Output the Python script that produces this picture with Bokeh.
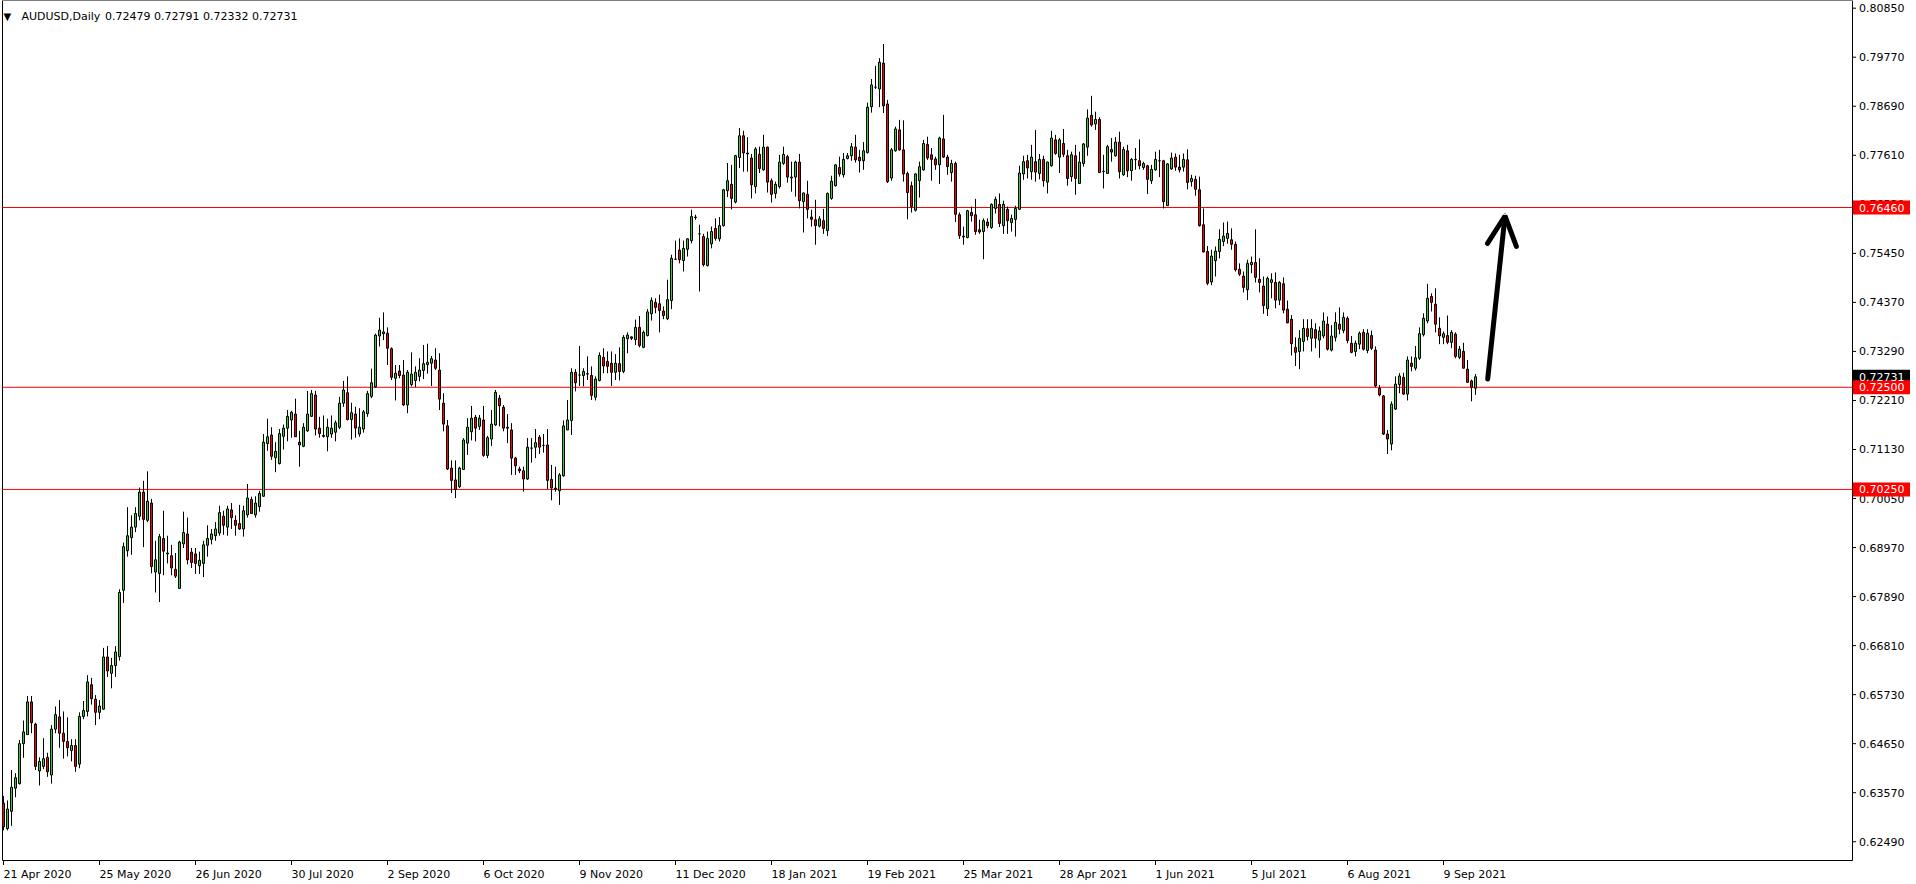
from bokeh.plotting import figure
from bokeh.models import ColumnDataSource, Label, Arrow, OpenHead, Range1d
from bokeh.embed import file_html
from bokeh.resources import INLINE
from bokeh.core.properties import value

symbol = "AUDUSD,Daily"
header_ohlc = "0.72479 0.72791 0.72332 0.72731"

opens = [
    .6334, .6278, .6316, .6367, .6377, .6465, .6485, .6557, .6508, .6405,
    .6415, .6435, .6396, .6497, .6524, .6488, .6470, .6450, .6461, .6420,
    .6525, .6536, .6595, .6563, .6534, .6541, .6656, .6620, .6637, .6657,
    .6803, .6890, .6919, .6942, .6966, .7019, .6957, .6995, .6843, .6840,
    .6917, .6883, .6879, .6849, .6807, .6905, .6927, .6887, .6883, .6857,
    .6862, .6902, .6915, .6923, .6929, .6966, .6942, .6980, .6957, .6950,
    .6938, .6969, .7003, .6969, .6987, .7010, .7126, .7145, .7095, .7082,
    .7142, .7160, .7178, .7191, .7129, .7120, .7154, .7186, .7233, .7160,
    .7144, .7141, .7147, .7151, .7162, .7215, .7238, .7179, .7191, .7147,
    .7158, .7192, .7230, .7251, .7363, .7368, .7369, .7335, .7270, .7286,
    .7277, .7211, .7256, .7265, .7274, .7287, .7300, .7303, .7310, .7288,
    .7215, .7165, .7072, .7046, .7031, .7069, .7127, .7152, .7184, .7164,
    .7178, .7100, .7136, .7167, .7226, .7206, .7162, .7156, .7094, .7070,
    .7066, .7048, .7116, .7118, .7140, .7122, .7123, .7047, .7028, .7022,
    .7055, .7156, .7177, .7283, .7277, .7276, .7280, .7276, .7228, .7265,
    .7316, .7307, .7303, .7283, .7302, .7285, .7357, .7361, .7355, .7382,
    .7338, .7364, .7412, .7437, .7434, .7418, .7401, .7441, .7532, .7552,
    .7529, .7554, .7573, .7625, .7588, .7582, .7518, .7566, .7600, .7577,
    .7606, .7683, .7697, .7658, .7756, .7804, .7766, .7755, .7692, .7763,
    .7729, .7779, .7705, .7677, .7692, .7743, .7758, .7713, .7713, .7746,
    .7659, .7675, .7625, .7619, .7605, .7617, .7595, .7666, .7694, .7734,
    .7718, .7754, .7760, .7779, .7757, .7749, .7767, .7868, .7911, .7907,
    .7964, .7874, .7711, .7771, .7817, .7773, .7721, .7694, .7640, .7705,
    .7729, .7785, .7762, .7753, .7740, .7797, .7757, .7723, .7743, .7630,
    .7583, .7580, .7635, .7630, .7597, .7593, .7614, .7602, .7644, .7653,
    .7606, .7642, .7613, .7620, .7642, .7720, .7749, .7725, .7747, .7721,
    .7752, .7702, .7738, .7795, .7757, .7787, .7760, .7714, .7760, .7699,
    .7743, .7779, .7849, .7830, .7840, .7726, .7721, .7774, .7760, .7790,
    .7718, .7771, .7727, .7752, .7749, .7734, .7738, .7705, .7729, .7749,
    .7749, .7650, .7731, .7757, .7735, .7735, .7751, .7703, .7708, .7685,
    .7608, .7549, .7482, .7529, .7549, .7571, .7578, .7575, .7565, .7510,
    .7495, .7465, .7520, .7525, .7488, .7473, .7423, .7481, .7481, .7442,
    .7478, .7422, .7400, .7338, .7329, .7351, .7379, .7358, .7377, .7354,
    .7363, .7389, .7332, .7360, .7389, .7375, .7402, .7347, .7329, .7345,
    .7371, .7331, .7364, .7332, .7248, .7231, .7147, .7125, .7202, .7256,
    .7272, .7235, .7303, .7292, .7314, .7366, .7396, .7450, .7433, .7380,
    .7360, .7364, .7349, .7367, .7316, .7329, .7290, .7264, .72479,
]

highs = [
    .6350, .6340, .6407, .6400, .6473, .6516, .6570, .6570, .6511, .6435,
    .6477, .6445, .6506, .6547, .6561, .6536, .6523, .6475, .6475, .6534,
    .6559, .6616, .6610, .6572, .6561, .6676, .6680, .6654, .6680, .6805,
    .6908, .6986, .6968, .6986, .7029, .7044, .7065, .7004, .6912, .6927,
    .6978, .6923, .6903, .6885, .6912, .6976, .6963, .6896, .6896, .6888,
    .6912, .6946, .6938, .6953, .6989, .6978, .6989, .6995, .6968, .6991,
    .6989, .7037, .7009, .7010, .7022, .7147, .7181, .7162, .7129, .7158,
    .7168, .7200, .7198, .7225, .7154, .7171, .7242, .7244, .7242, .7185,
    .7188, .7181, .7188, .7177, .7229, .7264, .7274, .7216, .7207, .7204,
    .7200, .7242, .7291, .7368, .7403, .7415, .7382, .7338, .7299, .7299,
    .7310, .7288, .7327, .7296, .7314, .7343, .7346, .7319, .7336, .7325,
    .7237, .7178, .7089, .7089, .7075, .7138, .7182, .7209, .7189, .7189,
    .7209, .7143, .7200, .7244, .7233, .7211, .7191, .7171, .7097, .7075,
    .7075, .7138, .7138, .7158, .7145, .7147, .7158, .7079, .7075, .7061,
    .7177, .7222, .7292, .7290, .7341, .7292, .7318, .7296, .7274, .7327,
    .7336, .7329, .7329, .7323, .7338, .7365, .7371, .7362, .7399, .7407,
    .7375, .7422, .7448, .7446, .7454, .7428, .7487, .7542, .7573, .7578,
    .7573, .7578, .7641, .7630, .7608, .7588, .7593, .7604, .7622, .7625,
    .7687, .7744, .7740, .7762, .7821, .7815, .7801, .7764, .7779, .7780,
    .7806, .7780, .7710, .7703, .7762, .7780, .7762, .7747, .7749, .7764,
    .7679, .7705, .7641, .7663, .7627, .7643, .7679, .7716, .7741, .7758,
    .7766, .7766, .7788, .7806, .7773, .7790, .7877, .7929, .7958, .7975,
    .8006, .7883, .7777, .7824, .7839, .7838, .7725, .7703, .7721, .7747,
    .7795, .7802, .7777, .7758, .7802, .7850, .7762, .7751, .7747, .7635,
    .7604, .7641, .7648, .7665, .7619, .7622, .7622, .7655, .7670, .7677,
    .7661, .7648, .7630, .7650, .7738, .7760, .7762, .7784, .7817, .7764,
    .7760, .7747, .7815, .7806, .7799, .7819, .7773, .7769, .7784, .7769,
    .7788, .7862, .7892, .7857, .7845, .7762, .7784, .7799, .7801, .7813,
    .7780, .7784, .7755, .7777, .7796, .7747, .7740, .7740, .7769, .7773,
    .7751, .7744, .7767, .7765, .7762, .7765, .7774, .7718, .7716, .7714,
    .7644, .7561, .7553, .7560, .7598, .7613, .7615, .7600, .7571, .7523,
    .7505, .7531, .7538, .7598, .7534, .7494, .7494, .7501, .7503, .7484,
    .7492, .7441, .7409, .7360, .7376, .7400, .7400, .7400, .7391, .7384,
    .7415, .7406, .7387, .7415, .7426, .7415, .7406, .7363, .7353, .7373,
    .7378, .7378, .7375, .7340, .7255, .7233, .7156, .7219, .7274, .7281,
    .7282, .7318, .7318, .7341, .7382, .7413, .7478, .7457, .7468, .7404,
    .7373, .7408, .7376, .7371, .7341, .7348, .7310, .7267, .72791,
]

lows = [
    .6274, .6274, .6284, .6347, .6375, .6434, .6485, .6488, .6407, .6373,
    .6409, .6392, .6377, .6488, .6456, .6432, .6437, .6426, .6403, .6411,
    .6519, .6525, .6551, .6506, .6519, .6540, .6612, .6587, .6612, .6648,
    .6775, .6877, .6881, .6931, .6957, .6898, .6953, .6840, .6798, .6777,
    .6836, .6862, .6836, .6830, .6807, .6896, .6860, .6852, .6839, .6839,
    .6832, .6877, .6904, .6912, .6923, .6925, .6923, .6938, .6923, .6936,
    .6921, .6963, .6971, .6963, .6976, .7009, .7110, .7090, .7063, .7080,
    .7113, .7131, .7139, .7141, .7075, .7118, .7152, .7185, .7144, .7139,
    .7139, .7109, .7139, .7131, .7158, .7207, .7177, .7135, .7139, .7141,
    .7150, .7185, .7226, .7249, .7340, .7354, .7299, .7266, .7221, .7270,
    .7209, .7193, .7252, .7250, .7263, .7268, .7280, .7253, .7288, .7200,
    .7153, .7068, .7017, .7006, .7028, .7068, .7101, .7133, .7131, .7156,
    .7097, .7094, .7121, .7165, .7164, .7153, .7127, .7057, .7057, .7061,
    .7020, .7046, .7084, .7094, .7103, .7106, .7026, .7001, .7020, .6991,
    .7053, .7156, .7145, .7241, .7253, .7252, .7266, .7222, .7221, .7263,
    .7281, .7281, .7253, .7266, .7265, .7281, .7325, .7354, .7343, .7338,
    .7336, .7362, .7397, .7413, .7371, .7400, .7398, .7422, .7531, .7523,
    .7505, .7538, .7567, .7619, .7461, .7516, .7516, .7556, .7573, .7571,
    .7604, .7669, .7642, .7655, .7733, .7725, .7725, .7666, .7677, .7722,
    .7727, .7679, .7657, .7666, .7688, .7740, .7701, .7681, .7670, .7644,
    .7591, .7622, .7604, .7564, .7602, .7588, .7583, .7663, .7692, .7714,
    .7712, .7752, .7749, .7745, .7723, .7729, .7765, .7855, .7907, .7867,
    .7854, .7700, .7705, .7769, .7771, .7703, .7620, .7635, .7637, .7668,
    .7727, .7751, .7705, .7729, .7698, .7755, .7718, .7703, .7614, .7577,
    .7564, .7578, .7615, .7586, .7588, .7532, .7600, .7599, .7633, .7603,
    .7588, .7588, .7593, .7582, .7641, .7707, .7710, .7707, .7703, .7708,
    .7692, .7677, .7736, .7762, .7722, .7757, .7694, .7703, .7674, .7698,
    .7736, .7760, .7824, .7817, .7722, .7688, .7720, .7747, .7758, .7710,
    .7716, .7713, .7705, .7729, .7730, .7729, .7676, .7698, .7727, .7713,
    .7644, .7650, .7729, .7727, .7723, .7725, .7686, .7692, .7672, .7604,
    .7547, .7475, .7475, .7494, .7534, .7561, .7566, .7553, .7505, .7495,
    .7459, .7442, .7501, .7481, .7459, .7412, .7407, .7446, .7424, .7431,
    .7413, .7391, .7320, .7297, .7290, .7329, .7353, .7329, .7336, .7315,
    .7358, .7331, .7329, .7351, .7367, .7369, .7347, .7325, .7318, .7334,
    .7331, .7325, .7332, .7250, .7230, .7145, .7103, .7111, .7200, .7237,
    .7233, .7221, .7285, .7287, .7310, .7362, .7391, .7417, .7371, .7345,
    .7345, .7345, .7336, .7314, .7312, .7292, .7260, .7219, .72332,
]

closes = [
    .6282, .6321, .6369, .6390, .6465, .6491, .6557, .6511, .6415, .6426,
    .6432, .6403, .6497, .6529, .6488, .6470, .6456, .6461, .6415, .6525,
    .6538, .6601, .6564, .6534, .6548, .6656, .6625, .6637, .6667, .6798,
    .6899, .6923, .6942, .6972, .7019, .6959, .6999, .6855, .6870, .6921,
    .6889, .6885, .6852, .6834, .6909, .6930, .6870, .6864, .6862, .6869,
    .6903, .6917, .6927, .6938, .6974, .6946, .6982, .6963, .6946, .6938,
    .6978, .7006, .6972, .6995, .7016, .7129, .7141, .7098, .7109, .7148,
    .7160, .7186, .7195, .7141, .7123, .7162, .7191, .7236, .7158, .7148,
    .7142, .7162, .7160, .7172, .7215, .7244, .7179, .7194, .7160, .7162,
    .7196, .7236, .7260, .7365, .7376, .7372, .7336, .7272, .7281, .7276,
    .7211, .7283, .7279, .7283, .7288, .7302, .7305, .7313, .7292, .7224,
    .7169, .7070, .7045, .7025, .7072, .7134, .7162, .7182, .7160, .7182,
    .7100, .7139, .7169, .7239, .7209, .7160, .7160, .7094, .7077, .7066,
    .7048, .7118, .7116, .7128, .7118, .7122, .7045, .7028, .7026, .7057,
    .7165, .7178, .7283, .7260, .7277, .7285, .7279, .7232, .7268, .7320,
    .7297, .7296, .7283, .7303, .7285, .7360, .7365, .7358, .7382, .7342,
    .7371, .7416, .7441, .7426, .7419, .7408, .7443, .7534, .7532, .7531,
    .7556, .7577, .7626, .7624, .7588, .7520, .7578, .7593, .7578, .7606,
    .7685, .7705, .7666, .7760, .7804, .7766, .7764, .7696, .7775, .7732,
    .7779, .7702, .7675, .7697, .7746, .7763, .7713, .7711, .7746, .7661,
    .7678, .7642, .7620, .7606, .7621, .7600, .7677, .7704, .7740, .7720,
    .7752, .7760, .7780, .7751, .7749, .7771, .7867, .7916, .7911, .7966,
    .7870, .7703, .7773, .7819, .7773, .7720, .7679, .7648, .7720, .7736,
    .7787, .7755, .7752, .7740, .7799, .7757, .7736, .7743, .7631, .7584,
    .7581, .7639, .7628, .7593, .7592, .7617, .7606, .7653, .7664, .7611,
    .7653, .7617, .7622, .7644, .7722, .7747, .7733, .7757, .7724, .7752,
    .7705, .7746, .7799, .7765, .7795, .7763, .7710, .7762, .7710, .7746,
    .7786, .7843, .7828, .7840, .7723, .7725, .7780, .7768, .7790, .7725,
    .7774, .7727, .7752, .7751, .7738, .7743, .7708, .7730, .7752, .7749,
    .7659, .7742, .7755, .7735, .7729, .7752, .7701, .7710, .7686, .7606,
    .7548, .7479, .7539, .7550, .7576, .7583, .7589, .7565, .7509, .7499,
    .7470, .7523, .7525, .7492, .7481, .7430, .7490, .7487, .7442, .7481,
    .7420, .7392, .7346, .7327, .7358, .7380, .7362, .7380, .7358, .7374,
    .7396, .7334, .7363, .7393, .7378, .7404, .7353, .7327, .7347, .7369,
    .7334, .7369, .7336, .7253, .7233, .7147, .7136, .7213, .7257, .7275,
    .7235, .7310, .7296, .7315, .7368, .7402, .7446, .7437, .7389, .7363,
    .7368, .7349, .7371, .7318, .7334, .7292, .7261, .7250, .72731,
]

date_tick_bars = [0, 24, 48, 72, 96, 120, 144, 168, 192, 216, 240, 264, 288, 312, 336, 360]
date_tick_labels = ["21 Apr 2020", "25 May 2020", "26 Jun 2020", "30 Jul 2020",
                    "2 Sep 2020", "6 Oct 2020", "9 Nov 2020", "11 Dec 2020",
                    "18 Jan 2021", "19 Feb 2021", "25 Mar 2021", "28 Apr 2021",
                    "1 Jun 2021", "5 Jul 2021", "6 Aug 2021", "9 Sep 2021"]
price_ticks = [0.80850, 0.79770, 0.78690, 0.77610, 0.76530, 0.75450, 0.74370,
               0.73290, 0.72210, 0.71130, 0.70050, 0.68970, 0.67890, 0.66810,
               0.65730, 0.64650, 0.63570, 0.62490]
level_prices = [0.76460, 0.72500, 0.70250]
last_price = 0.72731

BULL = "#32CD32"
BEAR = "#FF0000"
FONT = "DejaVu Sans"

# ---- canvas / scale geometry (MT4 style: 4 px per bar, 4540 px per 1.0 price) ----
W, H = 1914, 880
BAR_PX, BAR0_PX = 4.0, 3.5
PX_PER_UNIT, REF_PRICE, REF_PY = 4540.0, 0.80850, 8.2
HALF = 0.5   # BokehJS draws with a half-pixel translation; compensate in the ranges


def ix(px):          # target canvas pixel -> bar coordinate
    return (px - BAR0_PX) / BAR_PX


def pp(py):          # target canvas pixel -> price coordinate
    return REF_PRICE - (py - REF_PY) / PX_PER_UNIT


def dp(npx):         # pixel height -> price delta
    return npx / PX_PER_UNIT


FRAME_L, FRAME_R, FRAME_T, FRAME_B = 2.5, 1852.5, 0.5, 860.5

n = len(closes)
idx = list(range(n))
body_top = [max(o, c) for o, c in zip(opens, closes)]
body_bot = [min(o, c) for o, c in zip(opens, closes)]
wick_hi = [max(h, t) for h, t in zip(highs, body_top)]
wick_lo = [min(l, b) for l, b in zip(lows, body_bot)]
colors = [BULL if c >= o else BEAR for o, c in zip(opens, closes)]
src = ColumnDataSource(dict(x=idx, top=body_top, bottom=body_bot,
                            hi=wick_hi, lo=wick_lo, color=colors))

p = figure(width=W, height=H,
           x_range=Range1d(ix(HALF), ix(W + HALF)),
           y_range=Range1d(pp(H + HALF), pp(HALF)),
           x_axis_location=None, y_axis_location=None,
           output_backend="svg", toolbar_location=None, tools="",
           min_border=0, background_fill_color="white", border_fill_color="white")
p.outline_line_color = None
p.xgrid.visible = False
p.ygrid.visible = False

# chart frame
p.segment(x0=[ix(FRAME_L), ix(FRAME_L), ix(FRAME_L), ix(FRAME_R)],
          y0=[pp(FRAME_T), pp(FRAME_B), pp(FRAME_T), pp(FRAME_T)],
          x1=[ix(FRAME_R), ix(FRAME_R), ix(FRAME_L), ix(FRAME_R)],
          y1=[pp(FRAME_T), pp(FRAME_B), pp(FRAME_B), pp(FRAME_B)],
          line_color="black", line_width=1)

# horizontal levels
p.segment(x0=[ix(FRAME_L)] * len(level_prices), x1=[ix(FRAME_R)] * len(level_prices),
          y0=level_prices, y1=level_prices, line_color="#FF0000", line_width=1)

# candles
p.segment(x0="x", y0="lo", x1="x", y1="hi", source=src, line_color="black", line_width=1)
p.vbar(x="x", width=0.5, top="top", bottom="bottom", source=src,
       fill_color="color", line_color="black", line_width=1)

# price scale (right)
p.segment(x0=[ix(1853)] * len(price_ticks), x1=[ix(1856)] * len(price_ticks),
          y0=price_ticks, y1=price_ticks, line_color="black", line_width=1)
p.text(x=[ix(1859)] * len(price_ticks), y=price_ticks,
       text=[f"{v:.5f}" for v in price_ticks],
       text_font=value(FONT), text_font_size=value("11px"), text_color="black",
       text_align="left", text_baseline="middle")

# time scale (bottom)
p.segment(x0=date_tick_bars, x1=date_tick_bars,
          y0=[pp(861)] * len(date_tick_bars), y1=[pp(865)] * len(date_tick_bars),
          line_color="black", line_width=1)
p.text(x=date_tick_bars, y=[pp(874.5)] * len(date_tick_bars), text=date_tick_labels,
       text_font=value(FONT), text_font_size=value("11px"), text_color="black",
       text_align="left", text_baseline="alphabetic")

# price boxes on the scale
box_prices = [last_price] + level_prices
box_colors = ["black"] + ["#FF0000"] * len(level_prices)
p.quad(left=[ix(1853)] * len(box_prices), right=[ix(1910)] * len(box_prices),
       top=[v + dp(7) for v in box_prices], bottom=[v - dp(7) for v in box_prices],
       fill_color=box_colors, line_color=None)
p.text(x=[ix(1859)] * len(box_prices), y=box_prices,
       text=[f"{v:.5f}" for v in box_prices],
       text_font=value(FONT), text_font_size=value("11px"), text_color="white",
       text_align="left", text_baseline="middle")

# header
p.add_layout(Label(x=ix(3.5), y=pp(16), text="\u25BC", text_font=FONT,
                   text_font_size="10px", text_color="black", text_baseline="alphabetic"))
p.add_layout(Label(x=ix(21.5), y=pp(16.5), text=symbol, text_font=FONT,
                   text_font_size="11px", text_color="black", text_baseline="alphabetic"))
p.add_layout(Label(x=ix(105), y=pp(16.5), text=header_ohlc, text_font=FONT,
                   text_font_size="11px", text_color="black", text_baseline="alphabetic"))

# hand-drawn arrow
p.add_layout(Arrow(end=OpenHead(size=29, line_width=5, line_color="black", line_cap="round"),
                   x_start=ix(1487.7), y_start=pp(379), x_end=ix(1505), y_end=pp(216),
                   line_width=5, line_color="black", line_cap="round"))

open("out.html", "w").write(file_html(p, INLINE))
